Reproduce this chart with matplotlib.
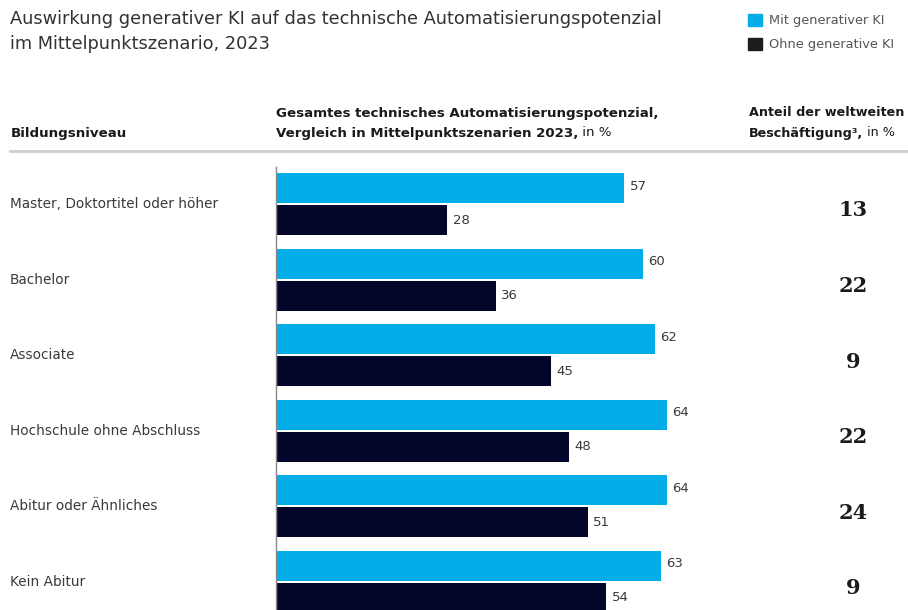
import matplotlib
matplotlib.use("Agg")
import matplotlib.pyplot as plt
import matplotlib.transforms as mtransforms
from matplotlib.lines import Line2D
from matplotlib.patches import Patch
import numpy as np

levels = ["Master, Doktortitel oder höher", "Bachelor", "Associate",
          "Hochschule ohne Abschluss", "Abitur oder Ähnliches", "Kein Abitur"]
with_genai = [57, 60, 62, 64, 64, 63]
without_genai = [28, 36, 45, 48, 51, 54]
employment_share = [13, 22, 9, 22, 24, 9]
series_names = ["Mit generativer KI", "Ohne generative KI"]

BLUE = "#05ADE8"
NAVY = "#03052B"
TEXT = "#3a3a3a"

plt.rcParams['font.family'] = ['DejaVu Sans']

W, H = 908, 610
fig = plt.figure(figsize=(W / 100, H / 100), dpi=100)


def fx(px):
    return px / W


def fy(py):
    return 1 - py / H


# bar area
ax = fig.add_axes([fx(276), 0, fx(750) - fx(276), fy(167)])
y = np.arange(len(levels))
h = 0.397
off = 0.212
ax.barh(y - off, with_genai, height=h, color=BLUE)
ax.barh(y + off, without_genai, height=h, color=NAVY)
ax.set_xlim(0, 474 / 6.11)
ax.set_ylim(len(levels) - 1 + 0.371, -0.496)
for s in ["top", "right", "bottom"]:
    ax.spines[s].set_visible(False)
ax.spines["left"].set_color("#8a8a8a")
ax.spines["left"].set_linewidth(1)
ax.set_xticks([])
ax.set_yticks([])

for yi, v in zip(y, with_genai):
    ax.text(v + 0.9, yi - off - 0.03, str(v), va="center", ha="left", fontsize=9.5, color=TEXT)
for yi, v in zip(y, without_genai):
    ax.text(v + 0.9, yi + off, str(v), va="center", ha="left", fontsize=9.5, color=TEXT)

trans = mtransforms.blended_transform_factory(fig.transFigure, ax.transData)
for yi, lab in zip(y, levels):
    ax.text(fx(10), yi, lab, transform=trans, ha="left", va="center",
            fontsize=9.8, color=TEXT, clip_on=False)
for yi, s in zip(y, employment_share):
    ax.text(fx(853), yi + 0.08, str(s), transform=trans, ha="center", va="center",
            family="DejaVu Serif", weight="bold", fontsize=15, color="#1a1a1a",
            clip_on=False)

# title
fig.text(fx(10), fy(10), "Auswirkung generativer KI auf das technische Automatisierungspotenzial\n"
         "im Mittelpunktszenario, 2023", ha="left", va="top", fontsize=12.8,
         color="#333333", linespacing=1.5)

# legend
handles = [Patch(color=BLUE), Patch(color="#1c1c1c")]
fig.legend(handles=handles, labels=series_names, loc="upper left",
           bbox_to_anchor=(fx(748), fy(14)), frameon=False, fontsize=9.3,
           labelcolor="#555555", handlelength=1.05, handleheight=1.05,
           handletextpad=0.55, labelspacing=0.8, borderaxespad=0, borderpad=0)

# column headers
def header(x, yy, bold, normal=None, size=9.6):
    t = fig.text(fx(x), fy(yy), bold, ha="left", va="center", fontsize=size,
                 weight="bold", color="#1a1a1a")
    if normal:
        ax.annotate(normal, xy=(1, 0.5), xycoords=t, va="center", ha="left",
                    fontsize=size, color="#1a1a1a", annotation_clip=False)


header(11, 133, "Bildungsniveau")
header(276, 113, "Gesamtes technisches Automatisierungspotenzial,")
header(276, 133, "Vergleich in Mittelpunktszenarien 2023,", " in %")
header(749, 113, "Anteil der weltweiten", size=9.2)
header(749, 133, "Beschäftigung³,", " in %", size=9.2)

fig.add_artist(Line2D([fx(10), 1], [fy(151), fy(151)], color="#cfcfcf", lw=2))

fig.savefig("out.png", dpi=100)
